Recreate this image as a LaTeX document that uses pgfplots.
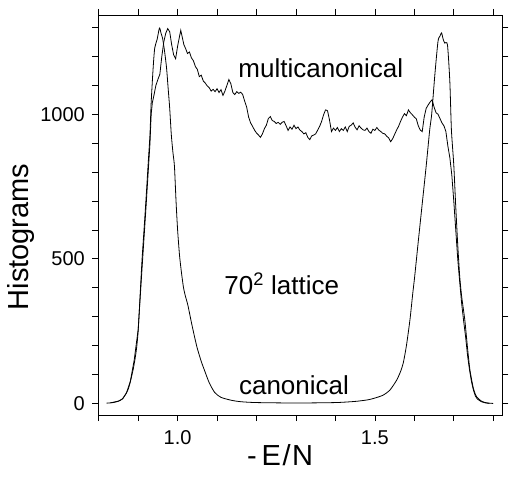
\documentclass[border=0pt]{standalone}
\usepackage{fontspec}
\setmainfont{Liberation Sans}
\usepackage{pgfplots}
\pgfplotsset{compat=1.18}
\begin{document}
\begin{tikzpicture}
\begin{axis}[
  scale only axis,
  width=404pt, height=400pt,
  xmin=0.799, xmax=1.823,
  ymin=-40, ymax=1343,
  axis line style={line width=0.8pt},
  tick align=outside,
  major tick length=6pt, minor tick length=6pt,
  tick style={line width=0.7pt, black},
  xtick={1.0,1.5}, xticklabels={1.0,1.5},
  minor xtick={0.8,0.9,1.1,1.2,1.3,1.4,1.6,1.7,1.8},
  ytick={0,500,1000},
  minor ytick={100,200,300,400,600,700,800,900,1100,1200,1300},
  /pgf/number format/assume math mode=true,
  /pgf/number format/1000 sep={},
  tick label style={font=\fontsize{20}{22}\selectfont},
  xticklabel style={yshift=-6pt},
  yticklabel style={xshift=-4pt},
  xlabel={-\,E\kern1.5pt/\kern1.5pt N},
  ylabel={Histograms},
  label style={font=\fontsize{29}{32}\selectfont},
  xlabel style={at={(axis description cs:0.45,-0.10)}, anchor=center},
  ylabel style={at={(axis description cs:-0.191,0.445)}, anchor=center, rotate=0},
]
% canonical
\addplot[black, line width=0.8pt, smooth, tension=0.4] coordinates {
(0.82,1) (0.83,2) (0.84,4) (0.85,8) (0.861,17) (0.875,50) (0.887,115) (0.895,180)
(0.90,250) (0.906,400) (0.91,500) (0.916,623) (0.921,730) (0.926,842) (0.93,930)
(0.933,1040) (0.938,1160) (0.942,1229) (0.948,1258) (0.954,1298) (0.958,1280)
(0.962,1262) (0.967,1217) (0.972,1160) (0.976,1090) (0.98,1020) (0.984,930)
(0.988,870) (0.992,820) (0.996,700) (1.0,600) (1.005,510) (1.01,450) (1.015,400)
(1.02,370) (1.026,340) (1.035,280) (1.043,230) (1.05,190) (1.06,145) (1.068,115)
(1.08,72) (1.094,38) (1.11,21) (1.136,11) (1.16,6) (1.2,3) (1.3,1.5) (1.4,3)
(1.45,7) (1.48,12) (1.496,17) (1.52,28) (1.538,46) (1.555,80) (1.565,110)
(1.572,140) (1.58,200) (1.589,290) (1.596,380) (1.601,440) (1.61,560) (1.62,690)
(1.63,820) (1.639,946) (1.644,1000) (1.652,1136) (1.66,1252) (1.665,1270)
(1.669,1281) (1.673,1260) (1.677,1246) (1.684,1240) (1.69,1113) (1.694,946)
(1.70,825) (1.705,680) (1.71,550) (1.715,440) (1.72,370) (1.728,288) (1.735,190)
(1.741,115) (1.75,50) (1.758,23) (1.77,8) (1.78,3) (1.79,1) (1.80,0)
};
% multicanonical
\addplot[black, line width=0.8pt] coordinates {
(0.83,2) (0.85,8) (0.86,15) (0.87,35) (0.88,75) (0.89,150) (0.90,255) (0.91,470)
(0.92,680) (0.925,790) (0.93,900) (0.933,1000) (0.936,1040) (0.94,1065) (0.945,1100)
(0.95,1120) (0.955,1138) (0.96,1200) (0.965,1250) (0.97,1280) (0.975,1296)
(0.98,1285) (0.985,1240) (0.99,1205) (0.995,1192) (1.0,1235) (1.005,1270)
(1.008,1290) (1.012,1265) (1.016,1240) (1.02,1228) (1.025,1210) (1.03,1215)
(1.035,1195) (1.04,1185) (1.045,1165) (1.05,1155) (1.055,1130) (1.06,1135)
(1.065,1115) (1.07,1108) (1.075,1098) (1.08,1092) (1.085,1080) (1.09,1086)
(1.095,1078) (1.10,1088) (1.105,1075) (1.11,1085) (1.115,1065) (1.12,1080)
(1.125,1100) (1.13,1120) (1.135,1105) (1.14,1075) (1.145,1068) (1.15,1078)
(1.155,1072) (1.16,1076) (1.165,1068) (1.17,1045) (1.175,1025) (1.18,990)
(1.185,970) (1.19,958) (1.195,945) (1.20,935) (1.205,928) (1.21,920) (1.215,932)
(1.22,950) (1.225,962) (1.23,985) (1.235,992) (1.24,978) (1.245,975) (1.25,968)
(1.255,972) (1.26,965) (1.265,972) (1.27,975) (1.275,960) (1.28,944) (1.285,956)
(1.29,948) (1.295,962) (1.30,950) (1.305,956) (1.31,945) (1.315,940) (1.32,932)
(1.325,936) (1.33,920) (1.335,912) (1.34,925) (1.345,928) (1.35,932) (1.355,945)
(1.36,958) (1.365,975) (1.37,998) (1.375,1015) (1.38,1012) (1.385,980) (1.39,940)
(1.395,952) (1.40,944) (1.405,954) (1.41,940) (1.415,950) (1.42,944) (1.425,956)
(1.43,940) (1.435,958) (1.44,962) (1.445,970) (1.45,955) (1.455,946) (1.46,960)
(1.465,952) (1.47,946) (1.475,944) (1.48,952) (1.485,940) (1.49,934) (1.495,948)
(1.50,944) (1.505,954) (1.51,945) (1.515,940) (1.52,934) (1.525,932) (1.53,924)
(1.535,918) (1.54,905) (1.545,915) (1.55,930) (1.555,945) (1.56,958) (1.565,975)
(1.57,990) (1.575,1002) (1.58,995) (1.585,1015) (1.59,1005) (1.595,998) (1.60,990)
(1.605,984) (1.61,960) (1.615,945) (1.62,940) (1.625,990) (1.63,1020) (1.635,1032)
(1.64,1042) (1.645,1050) (1.65,1025) (1.655,1005) (1.66,1000) (1.665,985)
(1.67,970) (1.675,960) (1.68,940) (1.685,890) (1.69,850) (1.695,790) (1.70,700)
(1.705,600) (1.71,500) (1.715,420) (1.72,345) (1.725,285) (1.73,230) (1.735,165)
(1.74,115) (1.745,75) (1.75,45) (1.755,25) (1.76,15) (1.77,6) (1.78,2) (1.79,0)
};
\node[font=\fontsize{26}{28}\selectfont] at (axis cs:1.363,1160) {multicanonical};
\node[font=\fontsize{26}{28}\selectfont] at (axis cs:1.264,413) {70\textsuperscript{2} lattice};
\node[font=\fontsize{26}{28}\selectfont] at (axis cs:1.295,63) {canonical};
\end{axis}
\pgfresetboundingbox
\path[use as bounding box] ([shift={(-98.3pt,-62pt)}]current axis.south west) rectangle ++(510pt,477pt);
\end{tikzpicture}
\end{document}
